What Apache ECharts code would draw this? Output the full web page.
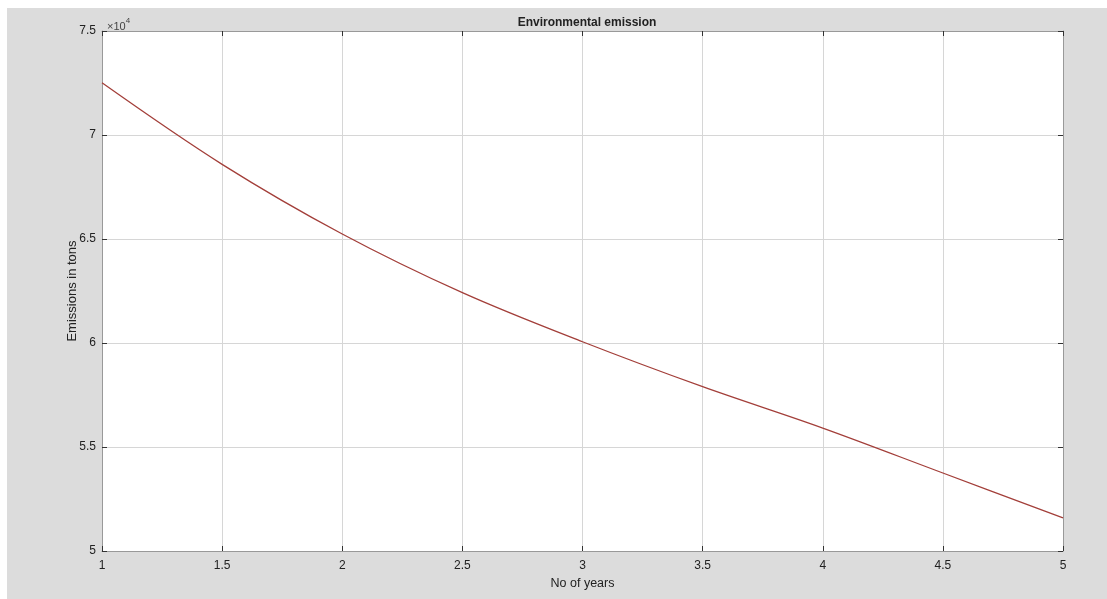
<!DOCTYPE html>
<html>
<head>
<meta charset="utf-8">
<title>Environmental emission</title>
<script src="https://cdn.jsdelivr.net/npm/echarts@6/dist/echarts.min.js"></script>
<style>
    html, body { margin: 0; padding: 0; background: #fff; }
    #main { position: absolute; left: 7px; top: 8px; width: 1100px; height: 591px; }
</style>
</head>
<body>
<div id="main"></div>
<script>
// years on the x axis
var years = [1, 1.5, 2, 2.5, 3, 3.5, 4, 4.5, 5];
// emissions in tons
var emissions = [72510, 68590, 65240, 62420, 60060, 57900, 55910, 53750, 51590];
// tick labels
var xTicks = [1, 1.5, 2, 2.5, 3, 3.5, 4, 4.5, 5];
var yTicks = [5, 5.5, 6, 6.5, 7, 7.5];

var FONT = '"Liberation Sans", Arial, sans-serif';

var points = [];
for (var i = 0; i < years.length; i++) {
    points.push([years[i], emissions[i]]);
}

var tickStyle = { inside: true, length: 5, lineStyle: { color: '#333', width: 1 } };
var axisLineStyle = { show: true, lineStyle: { color: '#999', width: 1 } };

var option = {
    backgroundColor: '#dcdcdc',
    animation: false,
    title: [
        {
            text: 'Environmental emission',
            left: 575,
            top: 4,
            textAlign: 'center',
            textStyle: { fontFamily: FONT, fontSize: 12, fontWeight: 'bold', color: '#222' }
        },
        {
            text: '{a|×10}{b|4}',
            left: 95,
            top: 2,
            textStyle: {
                rich: {
                    a: { fontFamily: FONT, fontSize: 11, fontWeight: 'normal', color: '#444', padding: [6, 0, 0, 0] },
                    b: { fontFamily: FONT, fontSize: 8, fontWeight: 'normal', color: '#444', padding: [0, 0, 5, 0] }
                }
            }
        }
    ],
    grid: {
        left: 95,
        top: 23,
        right: 44,
        bottom: 48,
        show: true,
        backgroundColor: '#fff',
        borderWidth: 0
    },
    xAxis: [
        {
            type: 'value',
            min: 1,
            max: 5,
            interval: 0.5,
            name: 'No of years',
            nameLocation: 'middle',
            nameGap: 26,
            nameTextStyle: { fontFamily: FONT, fontSize: 12.5, color: '#222' },
            axisLine: axisLineStyle,
            axisTick: tickStyle,
            axisLabel: {
                margin: 9,
                fontFamily: FONT,
                fontSize: 12,
                color: '#222',
                formatter: function (v) { return xTicks.indexOf(v) >= 0 ? String(v) : ''; }
            },
            splitLine: { show: true, lineStyle: { color: '#d6d6d6', width: 1 } }
        },
        {
            type: 'value',
            position: 'top',
            min: 1,
            max: 5,
            interval: 0.5,
            axisLine: axisLineStyle,
            axisTick: tickStyle,
            axisLabel: { show: false },
            splitLine: { show: false }
        }
    ],
    yAxis: [
        {
            type: 'value',
            min: 50000,
            max: 75000,
            interval: 5000,
            name: 'Emissions in tons',
            nameLocation: 'middle',
            nameGap: 23,
            nameMoveOverlap: false,
            nameTextStyle: { fontFamily: FONT, fontSize: 13, color: '#222' },
            axisLine: axisLineStyle,
            axisTick: tickStyle,
            axisLabel: {
                margin: 6,
                fontFamily: FONT,
                fontSize: 12,
                color: '#222',
                formatter: function (v) {
                    var t = v / 10000;
                    return yTicks.indexOf(t) >= 0 ? String(t) : '';
                }
            },
            splitLine: { show: true, lineStyle: { color: '#d6d6d6', width: 1 } }
        },
        {
            type: 'value',
            position: 'right',
            min: 50000,
            max: 75000,
            interval: 5000,
            axisLine: axisLineStyle,
            axisTick: tickStyle,
            axisLabel: { show: false },
            splitLine: { show: false }
        }
    ],
    series: [
        {
            name: 'Emission',
            type: 'line',
            data: points,
            xAxisIndex: 0,
            yAxisIndex: 0,
            smooth: 0.35,
            showSymbol: false,
            lineStyle: { color: '#a33f3a', width: 1.3 }
        }
    ]
};

var chart = echarts.init(document.getElementById('main'));
chart.setOption(option);
window.addEventListener('resize', chart.resize);
</script>
</body>
</html>
